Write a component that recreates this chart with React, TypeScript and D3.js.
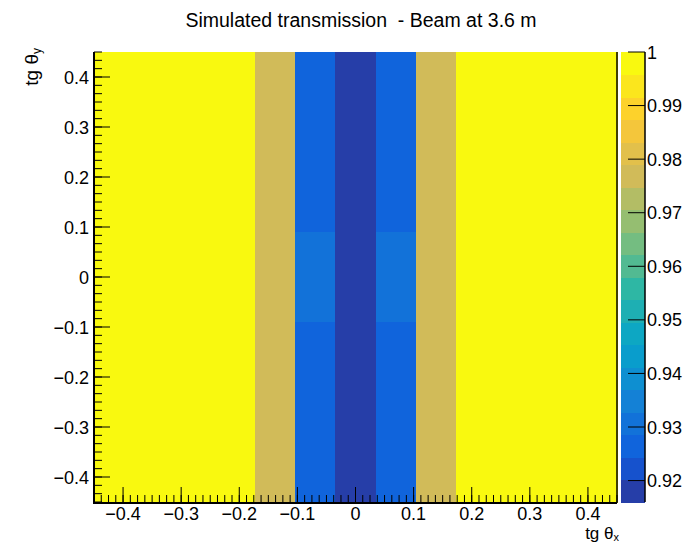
import React from "react";
import * as d3 from "d3";

// ---- data ----
const title = "Simulated transmission  - Beam at 3.6 m";
const xDomain = [-0.45, 0.45];
const yDomain = [-0.45, 0.45];
const nXBins = 13;
// rows from top (tg θy high) to bottom
const row1 = [1, 1, 1, 1, 0.977, 0.9265, 0.916, 0.9265, 0.977, 1, 1, 1, 1];
const row2 = [1, 1, 1, 1, 0.977, 0.9265, 0.916, 0.9265, 0.977, 1, 1, 1, 1];
const row3 = [1, 1, 1, 1, 0.977, 0.9305, 0.916, 0.9305, 0.977, 1, 1, 1, 1];
const row4 = [1, 1, 1, 1, 0.977, 0.9265, 0.916, 0.9265, 0.977, 1, 1, 1, 1];
const row5 = [1, 1, 1, 1, 0.977, 0.9265, 0.916, 0.9265, 0.977, 1, 1, 1, 1];
const rows = [row1, row2, row3, row4, row5];
const xTicks = [-0.4, -0.3, -0.2, -0.1, 0, 0.1, 0.2, 0.3, 0.4];
const yTicks = [-0.4, -0.3, -0.2, -0.1, 0, 0.1, 0.2, 0.3, 0.4];
const zTicks = [0.92, 0.93, 0.94, 0.95, 0.96, 0.97, 0.98, 0.99, 1];
const nContours = 20;

// ROOT kBird palette
const stops = [0.0, 0.125, 0.25, 0.375, 0.5, 0.625, 0.75, 0.875, 1.0];
const red = [0.2082, 0.0592, 0.078, 0.0232, 0.1802, 0.5301, 0.8186, 0.9956, 0.9764];
const green = [0.1664, 0.3599, 0.5041, 0.6419, 0.7178, 0.7492, 0.7328, 0.7862, 0.9832];
const blue = [0.5293, 0.8684, 0.8385, 0.7914, 0.6425, 0.4662, 0.3499, 0.1968, 0.0539];

function buildPalette(n: number): string[] {
  const out: string[] = [];
  for (let g = 1; g < stops.length; g++) {
    const nc = Math.floor(n * stops[g]) - Math.floor(n * stops[g - 1]);
    for (let c = 0; c < nc; c++) {
      const r = red[g - 1] + (c * (red[g] - red[g - 1])) / nc;
      const gg = green[g - 1] + (c * (green[g] - green[g - 1])) / nc;
      const b = blue[g - 1] + (c * (blue[g] - blue[g - 1])) / nc;
      out.push(d3.rgb(Math.round(r * 255), Math.round(gg * 255), Math.round(b * 255)).formatHex());
    }
  }
  return out;
}
const palette = buildPalette(255);
const bandColor = (i: number) =>
  palette[Math.min(254, Math.floor(((i + 0.99) * palette.length) / nContours))];

const fmt = (v: number) => {
  const s = d3.format("~g")(+v.toFixed(4));
  return s.replace("-", "\u2212");
};

export default function App() {
  const W = 692, H = 544;
  const L = 94, R = 617, T = 52, B = 502;
  const cbL = 621, cbR = 645;
  const font = "'Liberation Sans', Arial, Helvetica, sans-serif";

  const x = d3.scaleLinear().domain(xDomain).range([L, R]);
  const y = d3.scaleLinear().domain(yDomain).range([B, T]);
  const xb = d3.scaleBand<number>().domain(d3.range(nXBins)).range([L, R]);
  const yb = d3.scaleBand<number>().domain(d3.range(rows.length)).range([T, B]);

  const all = rows.flat();
  const zMin = d3.min(all) as number;
  const zMax = d3.max(all) as number;
  const z = d3.scaleLinear().domain([zMin, zMax]).range([B, T]);
  const dz = (zMax - zMin) / nContours;
  const colorOf = (v: number) => {
    let i = Math.floor((v - zMin) / dz);
    if (i >= nContours) i = nContours - 1;
    if (i < 0) i = 0;
    return bandColor(i);
  };

  const xMinor: number[] = [];
  for (let k = -36; k <= 36; k++) xMinor.push(k * 0.0125);
  const yMinor: number[] = [];
  for (let k = -27; k <= 27; k++) yMinor.push(k / 60);

  const labelSize = 18;

  return (
    <svg width={W} height={H} style={{ position: "absolute", left: 0, top: 0, background: "#fff" }}>
      <rect x={0} y={0} width={W} height={H} fill="#fff" />
      {/* cells */}
      {rows.map((row, ri) =>
        row.map((v, ci) => (
          <rect
            key={`${ri}-${ci}`}
            x={xb(ci)!}
            y={yb(ri)!}
            width={xb.bandwidth() + 0.5}
            height={yb.bandwidth() + 0.5}
            fill={colorOf(v)}
            shapeRendering="crispEdges"
          />
        ))
      )}
      {/* frame */}
      <line x1={L} x2={L} y1={T} y2={B + 1} stroke="#000" strokeWidth={2} />
      <line x1={L - 1} x2={R} y1={B + 1} y2={B + 1} stroke="#000" strokeWidth={2} />
      <line x1={R} x2={R} y1={T} y2={B + 1} stroke="#000" strokeWidth={1.5} />
      {/* x ticks */}
      {xMinor.filter((t) => t >= xDomain[0] - 1e-9 && t <= xDomain[1] + 1e-9).map((t, i) => (
        <line key={`xm${i}`} x1={x(t)} x2={x(t)} y1={B} y2={B - 7} stroke="#000" strokeWidth={1} />
      ))}
      {xTicks.map((t) => (
        <line key={`xt${t}`} x1={x(t)} x2={x(t)} y1={B} y2={B - 15} stroke="#000" strokeWidth={1} />
      ))}
      {xTicks.map((t) => (
        <text key={`xl${t}`} x={x(t)} y={520} fontSize={labelSize} fontFamily={font} textAnchor="middle">
          {fmt(t)}
        </text>
      ))}
      {/* y ticks */}
      {yMinor.filter((t) => t >= yDomain[0] - 1e-9 && t <= yDomain[1] + 1e-9).map((t, i) => (
        <line key={`ym${i}`} x1={L} x2={L + 8} y1={y(t)} y2={y(t)} stroke="#000" strokeWidth={1} />
      ))}
      {yTicks.map((t) => (
        <line key={`yt${t}`} x1={L} x2={L + 16} y1={y(t)} y2={y(t)} stroke="#000" strokeWidth={1} />
      ))}
      {yTicks.map((t) => (
        <text key={`yl${t}`} x={89} y={y(t) + 6.5} fontSize={labelSize} fontFamily={font} textAnchor="end">
          {fmt(t)}
        </text>
      ))}
      {/* color bar */}
      {d3.range(nContours).map((i) => (
        <rect
          key={`cb${i}`}
          x={cbL}
          y={z(zMin + (i + 1) * dz)}
          width={cbR - cbL}
          height={z(zMin + i * dz) - z(zMin + (i + 1) * dz) + 0.5}
          fill={bandColor(i)}
          shapeRendering="crispEdges"
        />
      ))}
      <line x1={cbR} x2={cbR} y1={T} y2={B} stroke="#000" strokeWidth={1.5} />
      {zTicks.map((t) => (
        <g key={`zt${t}`}>
          <line x1={cbR - 17} x2={cbR} y1={z(t)} y2={z(t)} stroke="#000" strokeWidth={1} />
          <text x={cbR + 2} y={z(t) + 6.5} fontSize={labelSize} fontFamily={font}>
            {fmt(t)}
          </text>
        </g>
      ))}
      {/* titles */}
      <text x={361} y={27} fontSize={19.5} fontFamily={font} textAnchor="middle" style={{ whiteSpace: "pre" }}>
        {title}
      </text>
      <text x={R + 2} y={539} fontSize={17} fontFamily={font} textAnchor="end">
        tg θ<tspan fontSize={11} dy={2}>x</tspan>
      </text>
      <text
        transform={`translate(38, ${T - 4}) rotate(-90)`}
        fontSize={19}
        fontFamily={font}
        textAnchor="end"
      >
        tg θ<tspan fontSize={12} dy={3}>y</tspan>
      </text>
    </svg>
  );
}
